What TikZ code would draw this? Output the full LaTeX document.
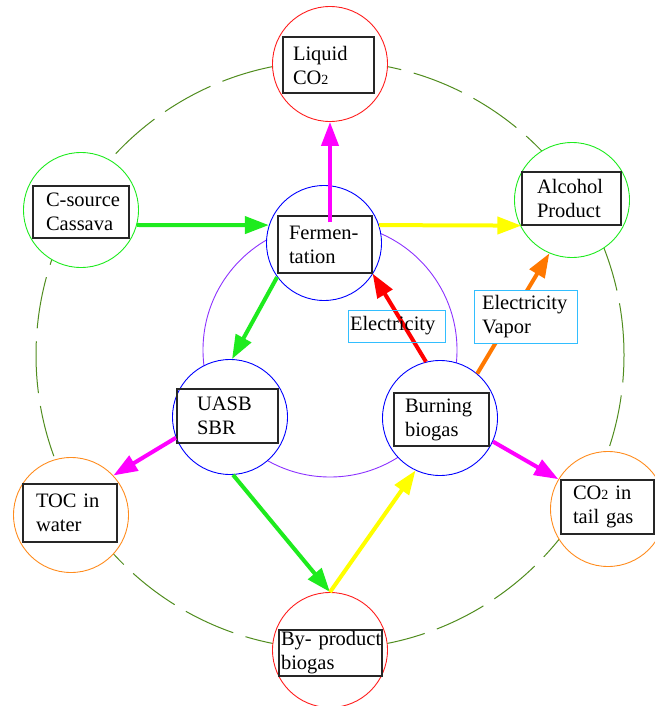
\documentclass[tikz,border=0pt]{standalone}
\usepackage{fontspec}
\setmainfont{Liberation Serif}
\usetikzlibrary{arrows.meta,calc}
\definecolor{olive}{RGB}{80,140,30}
\definecolor{cgreen}{RGB}{30,235,30}
\definecolor{cred}{RGB}{255,30,30}
\definecolor{corange}{RGB}{255,140,30}
\definecolor{cpurple}{RGB}{140,50,255}
\definecolor{ccyan}{RGB}{50,190,255}
\definecolor{aorange}{RGB}{255,120,0}
\definecolor{cmag}{RGB}{255,0,255}
\definecolor{cyel}{RGB}{255,255,0}
\begin{document}
\begin{tikzpicture}[x=1pt,y=-1pt,
  ring/.style={circle,draw,fill=white,line width=0.9pt,minimum size=115pt,inner sep=0pt},
  box/.style={draw=black!85,line width=1.2pt,inner ysep=0pt,align=left,
    font=\fontsize{20.5}{24}\selectfont},
  lbl/.style={draw=ccyan,line width=0.9pt,inner ysep=0pt,align=left,
    font=\fontsize{20.5}{24}\selectfont},
  arr/.style={line width=4pt,-{Triangle[length=24pt,width=17pt]}}]
\useasboundingbox (0,0) rectangle (655,706);
\clip (0,0) rectangle (655,706);
% outer dashed ring
\draw[olive,line width=1pt,dash pattern=on 52pt off 13pt] (330,355) circle[radius=294pt];
% outer circles
\node[ring,draw=cred]    (liq)  at (330,64)  {};
\node[ring,draw=cgreen]  (cass) at (81,210)  {};
\node[ring,draw=cgreen]  (alc)  at (572,200) {};
\node[ring,draw=corange] (toc)  at (71,515)  {};
\node[ring,draw=corange] (tail) at (608,509) {};
\node[ring,draw=cred]    (byp)  at (330,650) {};
% inner purple ring
\draw[cpurple,line width=0.9pt] (330,350) circle[radius=127pt];
% inner circles
\node[ring,draw=blue] (ferm) at (324,243) {};
\node[ring,draw=blue] (uasb) at (230,417) {};
\node[ring,draw=blue] (burn) at (440,418) {};
% boxes
\node[box,text width=71pt,inner xsep=10pt,minimum height=56pt] (liqB) at (328.5,65)
  {\mbox{Liquid}\\\mbox{CO{\fontsize{14}{14}\selectfont 2}}};
\node[box,text width=70pt,inner xsep=13pt,minimum height=52pt] (cassB) at (81,212)
  {\mbox{C-source}\\\mbox{Cassava}};
\node[box,text width=69pt,inner xsep=15pt,minimum height=53pt] (alcB) at (571.5,198.5)
  {\mbox{Alcohol}\\\mbox{Product}};
\node[box,text width=72pt,inner xsep=11pt,minimum height=57pt] (fermB) at (325,244.5)
  {\mbox{Fermen-}\\\mbox{tation}};
\node[box,text width=61pt,inner xsep=20pt,minimum height=54pt] (uasbB) at (227.5,416)
  {\mbox{UASB}\\\mbox{SBR}};
\node[box,text width=73pt,inner xsep=11pt,minimum height=53pt] (burnB) at (441.5,419.5)
  {\mbox{Burning}\\\mbox{biogas}};
\node[box,text width=68pt,inner xsep=13pt,minimum height=58pt] (tocB) at (70,513)
  {\mbox{TOC in}\\\mbox{water}};
\node[box,text width=69pt,inner xsep=12pt,minimum height=54pt] (tailB) at (607.5,507)
  {\mbox{CO{\fontsize{14}{14}\selectfont 2} in}\\\mbox{tail gas}};
\node[box,text width=99pt,inner xsep=2pt,minimum height=46pt] (bypB) at (330.5,653)
  {\mbox{By- product}\\\mbox{biogas}};
% arrows
\draw[arr,cgreen] (cass.-15) -- (ferm.162);
\draw[arr,cmag] ([yshift=-7pt]fermB.north -| liq.south) -- (liq.south);
\draw[arr,cyel] (ferm.18) -- (alcB.south west);
\draw[arr,cgreen] (ferm.216) -- (uasb.88);
\draw[arr,red] (burn.104) -- (fermB.south east);
\draw[arr,aorange] (burn.50) -- (alc.247);
\draw[arr,cmag] (uasb.201) -- (toc.43);
\draw[arr,cmag] (burn.-24) -- (tail.149);
\draw[arr,cgreen] (uasb.-87) -- (byp.90);
\draw[arr,cyel] (byp.90) -- (burn.245);
% labels
\node[lbl,text width=93pt,inner xsep=2pt,minimum height=32pt] (el1) at (396.5,326)
  {\mbox{Electricity}};
\node[lbl,draw=none,fill=white,text width=88pt,inner xsep=7pt,minimum height=52pt] (el2) at (526,317)
  {\mbox{Electricity}\\\mbox{Vapor}};
\draw[ccyan,line width=0.9pt] (el2.south west) rectangle (el2.north east);
\end{tikzpicture}
\end{document}
